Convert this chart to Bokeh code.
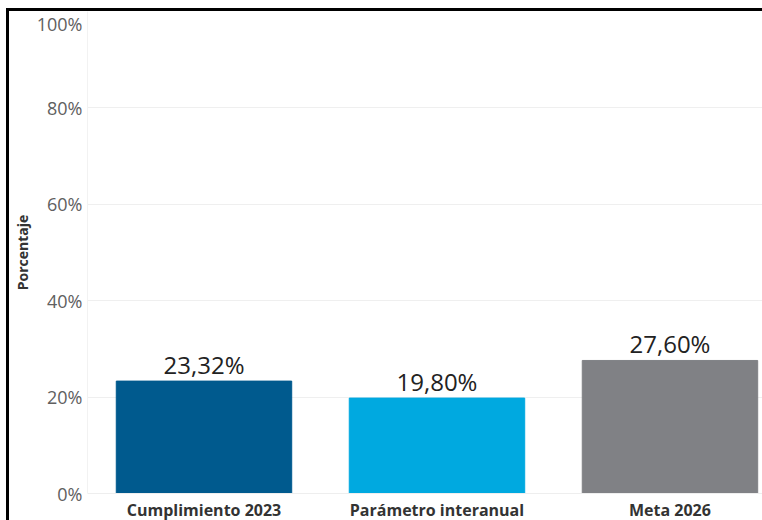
from bokeh.plotting import figure
from bokeh.models import Range1d, FixedTicker, ColumnDataSource
from bokeh.core.properties import value
from bokeh.embed import file_html
from bokeh.resources import INLINE

categories = ["Cumplimiento 2023", "Parámetro interanual", "Meta 2026"]
values = [23.32, 19.80, 27.60]
value_labels = ["23,32%", "19,80%", "27,60%"]
colors = ["#005a8e", "#00a9e0", "#808185"]
y_ticks = [0, 20, 40, 60, 80, 100]
y_tick_labels = ["0%", "20%", "40%", "60%", "80%", "100%"]

xs = list(range(len(categories)))
src = ColumnDataSource(dict(x=xs, top=values, color=colors, lab=value_labels))

p = figure(width=756, height=512, output_backend="svg", toolbar_location=None,
           x_range=Range1d(-0.5, 2.41), y_range=Range1d(0, 100),
           min_border_left=73, min_border_right=0, min_border_top=0, min_border_bottom=24)
p.styles = {"margin-top": "8px", "margin-left": "6px",
            "border-top": "3px solid black", "border-left": "3px solid black"}

p.vbar(x="x", top="top", width=0.753, bottom=0, color="color", source=src)
p.text(x="x", y="top", text="lab", source=src, text_align="center", text_baseline="bottom",
       y_offset=0, text_font=value("Open Sans"), text_font_size="24px", text_color="#222222")

p.xgrid.grid_line_color = None
p.ygrid.grid_line_color = "#efefef"
p.ygrid.ticker = FixedTicker(ticks=y_ticks)
p.outline_line_color = None

p.xaxis.ticker = FixedTicker(ticks=xs)
p.xaxis.major_label_overrides = {i: c for i, c in zip(xs, categories)}
p.xaxis.major_label_text_font = "Open Sans"
p.xaxis.major_label_text_font_style = "bold"
p.xaxis.major_label_text_font_size = "16px"
p.xaxis.major_label_text_color = "#333333"
p.xaxis.major_label_standoff = 5
p.xaxis.major_tick_out = 0
p.xaxis.major_tick_in = 0
p.xaxis.minor_tick_out = 0
p.xaxis.minor_tick_in = 0
p.xaxis.axis_line_color = "#eeeeee"

p.yaxis.ticker = FixedTicker(ticks=y_ticks)
p.yaxis.major_label_overrides = {t: l for t, l in zip(y_ticks, y_tick_labels)}
p.yaxis.major_label_text_font = "Open Sans"
p.yaxis.major_label_text_font_size = "18px"
p.yaxis.major_label_text_color = "#606060"
p.yaxis.major_label_standoff = 5
p.yaxis.major_tick_out = 0
p.yaxis.major_tick_in = 0
p.yaxis.minor_tick_out = 0
p.yaxis.minor_tick_in = 0
p.yaxis.axis_line_color = "#f2f2f2"
p.yaxis.axis_label = "Porcentaje"
p.yaxis.axis_label_text_font = "Open Sans"
p.yaxis.axis_label_text_font_style = "bold"
p.yaxis.axis_label_text_font_size = "14px"
p.yaxis.axis_label_text_color = "#333333"
p.yaxis.axis_label_standoff = 2

open("out.html", "w").write(file_html(p, INLINE))
